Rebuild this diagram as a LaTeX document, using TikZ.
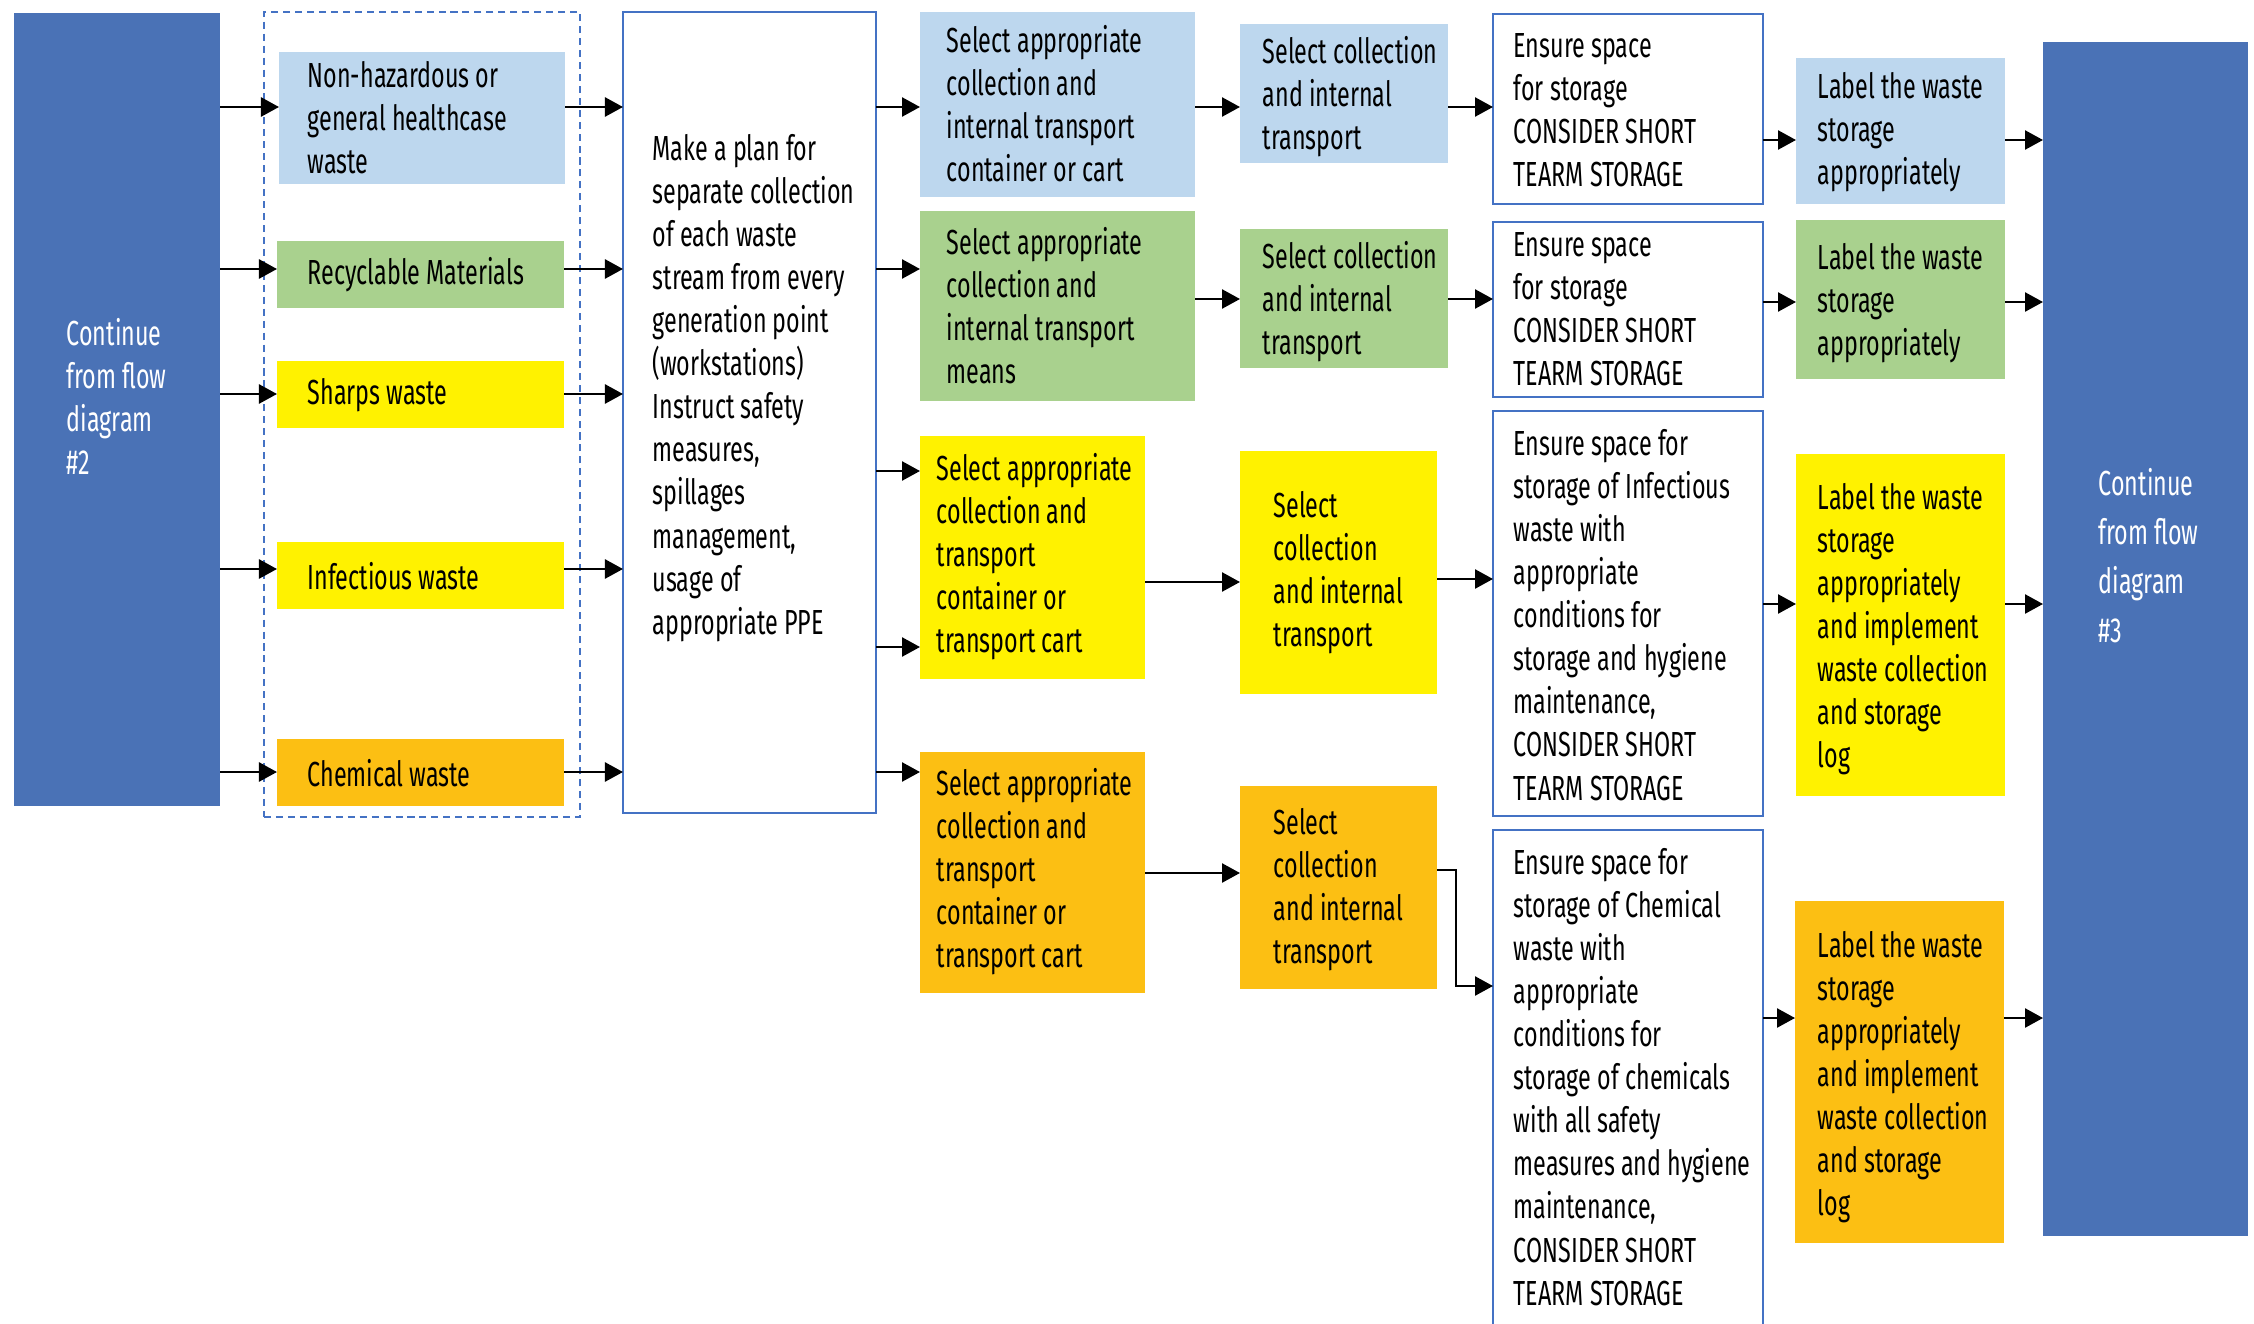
\documentclass[tikz,border=0pt]{standalone}
\usepackage{fontspec}
\setmainfont{Fira Sans}[FakeStretch=0.67]
\usetikzlibrary{arrows.meta,fit}

\definecolor{navy}{HTML}{4A72B6}
\definecolor{edgeblue}{HTML}{4472C4}
\definecolor{paleblue}{HTML}{BDD7EE}
\definecolor{palegreen}{HTML}{A9D18E}
\definecolor{brightyellow}{HTML}{FFF200}
\definecolor{amber}{HTML}{FCBF13}

\tikzset{
  box/.style={inner sep=0pt, outer sep=0pt},
  fillbox/.style={box, fill=#1},
  outlinebox/.style={box, draw=edgeblue, line width=0.6pt, fill=white},
  txt/.style={align=left, inner sep=0pt, anchor=west,
    font=\fontsize{9.9pt}{12.24pt}\selectfont},
  whitetxt/.style={txt, text=white},
  arr/.style={line width=0.7pt, -{Triangle[length=0.18cm,width=0.19cm]}},
}

\begin{document}
\begin{tikzpicture}[x=0.01cm,y=-0.01cm]
\useasboundingbox (0,0) rectangle (2254,1324);
\clip (0,0) rectangle (2254,1324);

% entry and exit panels
\node[fillbox=navy, fit={(14,13) (220,806)}] (cont2) {};
\node[whitetxt] (cont2-t) at (66,396) {Continue\\from flow\\diagram\\\#2};
\node[fillbox=navy, fit={(2043,42) (2248,1236)}] (cont3) {};
\node[whitetxt, font=\fontsize{9.9pt}{13.95pt}\selectfont] (cont3-t) at (2098,556) {Continue\\from flow\\diagram\\\#3};

% waste streams
\node[box, draw=edgeblue, line width=0.6pt, dash pattern=on 2pt off 1.4pt,
      fit={(264,12) (580,817)}] (streams) {};
\node[fillbox=paleblue, fit={(279,52) (565,184)}] (nonhaz) {};
\node[txt] (nonhaz-t) at (307,118) {Non-hazardous or\\general healthcase\\waste};
\node[fillbox=palegreen, fit={(277,241) (564,308)}] (recyc) {};
\node[txt] (recyc-t) at (307,275) {Recyclable Materials};
\node[fillbox=brightyellow, fit={(277,361) (564,428)}] (sharps) {};
\node[txt] (sharps-t) at (307,395) {Sharps waste};
\node[fillbox=brightyellow, fit={(277,542) (564,609)}] (infect) {};
\node[txt] (infect-t) at (307,576) {Infectious waste};
\node[fillbox=amber, fit={(277,739) (564,806)}] (chem) {};
\node[txt] (chem-t) at (307,773) {Chemical waste};

% plan
\node[outlinebox, fit={(623,12) (876,813)}] (plan) {};
\node[txt] (plan-t) at (652,388) {Make a plan for\\separate collection\\of each waste\\stream from every\\generation point\\(workstations)\\Instruct safety\\measures,\\spillages\\management,\\usage of\\appropriate PPE};

% collection means
\node[fillbox=paleblue, fit={(920,12) (1195,197)}] (c3a) {};
\node[txt] (c3a-t) at (946,104) {Select appropriate\\collection and\\internal transport\\container or cart};
\node[fillbox=palegreen, fit={(920,211) (1195,401)}] (c3b) {};
\node[txt] (c3b-t) at (946,306) {Select appropriate\\collection and\\internal transport\\means};
\node[fillbox=brightyellow, fit={(920,436) (1145,679)}] (c3c) {};
\node[txt] (c3c-t) at (936,557) {Select appropriate\\collection and\\transport\\container or\\transport cart};
\node[fillbox=amber, fit={(920,752) (1145,993)}] (c3d) {};
\node[txt] (c3d-t) at (936,872) {Select appropriate\\collection and\\transport\\container or\\transport cart};

% internal transport
\node[fillbox=paleblue, fit={(1240,24) (1448,163)}] (c4a) {};
\node[txt] (c4a-t) at (1262,97) {Select collection\\and internal\\transport};
\node[fillbox=palegreen, fit={(1240,229) (1448,368)}] (c4b) {};
\node[txt] (c4b-t) at (1262,302) {Select collection\\and internal\\transport};
\node[fillbox=brightyellow, fit={(1240,451) (1437,694)}] (c4c) {};
\node[txt] (c4c-t) at (1273,573) {Select\\collection\\and internal\\transport};
\node[fillbox=amber, fit={(1240,786) (1437,989)}] (c4d) {};
\node[txt] (c4d-t) at (1273,890) {Select\\collection\\and internal\\transport};

% storage space
\node[outlinebox, fit={(1493,14) (1763,204)}] (c5a) {};
\node[txt] (c5a-t) at (1513,110) {Ensure space\\for storage\\CONSIDER SHORT\\TEARM STORAGE};
\node[outlinebox, fit={(1493,222) (1763,397)}] (c5b) {};
\node[txt] (c5b-t) at (1513,309) {Ensure space\\for storage\\CONSIDER SHORT\\TEARM STORAGE};
\node[outlinebox, fit={(1493,411) (1763,816)}] (c5c) {};
\node[txt] (c5c-t) at (1513,615) {Ensure space for\\storage of Infectious\\waste with\\appropriate\\conditions for\\storage and hygiene\\maintenance,\\CONSIDER SHORT\\TEARM STORAGE};
\node[outlinebox, fit={(1493,830) (1763,1345)}] (c5d) {};
\node[txt] (c5d-t) at (1513,1077) {Ensure space for\\storage of Chemical\\waste with\\appropriate\\conditions for\\storage of chemicals\\with all safety\\measures and hygiene\\maintenance,\\CONSIDER SHORT\\TEARM STORAGE};

% labelling
\node[fillbox=paleblue, fit={(1796,58) (2005,204)}] (c6a) {};
\node[txt] (c6a-t) at (1817,132) {Label the waste\\storage\\appropriately};
\node[fillbox=palegreen, fit={(1796,220) (2005,379)}] (c6b) {};
\node[txt] (c6b-t) at (1817,303) {Label the waste\\storage\\appropriately};
\node[fillbox=brightyellow, fit={(1796,454) (2005,796)}] (c6c) {};
\node[txt] (c6c-t) at (1817,629) {Label the waste\\storage\\appropriately\\and implement\\waste collection\\and storage\\log};
\node[fillbox=amber, fit={(1795,901) (2004,1243)}] (c6d) {};
\node[txt] (c6d-t) at (1817,1077) {Label the waste\\storage\\appropriately\\and implement\\waste collection\\and storage\\log};

% connectors: entry panel to streams
\draw[arr] (cont2.east |- 0,107) -- (nonhaz.west |- 0,107);
\draw[arr] (cont2.east |- 0,269) -- (recyc.west |- 0,269);
\draw[arr] (cont2.east |- 0,394) -- (sharps.west |- 0,394);
\draw[arr] (cont2.east |- 0,569) -- (infect.west |- 0,569);
\draw[arr] (cont2.east |- 0,772) -- (chem.west |- 0,772);
% streams to plan
\draw[arr] (nonhaz.east |- 0,107) -- (plan.west |- 0,107);
\draw[arr] (recyc.east |- 0,269) -- (plan.west |- 0,269);
\draw[arr] (sharps.east |- 0,394) -- (plan.west |- 0,394);
\draw[arr] (infect.east |- 0,569) -- (plan.west |- 0,569);
\draw[arr] (chem.east |- 0,772) -- (plan.west |- 0,772);
% plan to collection means
\draw[arr] (plan.east |- 0,107) -- (c3a.west |- 0,107);
\draw[arr] (plan.east |- 0,269) -- (c3b.west |- 0,269);
\draw[arr] (plan.east |- 0,471) -- (c3c.west |- 0,471);
\draw[arr] (plan.east |- 0,647) -- (c3c.west |- 0,647);
\draw[arr] (plan.east |- 0,772) -- (c3d.west |- 0,772);
% collection means to internal transport
\draw[arr] (c3a.east |- 0,107) -- (c4a.west |- 0,107);
\draw[arr] (c3b.east |- 0,299) -- (c4b.west |- 0,299);
\draw[arr] (c3c.east |- 0,582) -- (c4c.west |- 0,582);
\draw[arr] (c3d.east |- 0,873) -- (c4d.west |- 0,873);
% internal transport to storage
\draw[arr] (c4a.east |- 0,107) -- (c5a.west |- 0,107);
\draw[arr] (c4b.east |- 0,299) -- (c5b.west |- 0,299);
\draw[arr] (c4c.east |- 0,579) -- (c5c.west |- 0,579);
\coordinate (bend) at (1456,986);
\draw[arr] (c4d.east |- 0,870) -| (bend) -- (c5d.west |- bend);
% storage to labelling
\draw[arr] (c5a.east |- 0,140) -- (c6a.west |- 0,140);
\draw[arr] (c5b.east |- 0,302) -- (c6b.west |- 0,302);
\draw[arr] (c5c.east |- 0,604) -- (c6c.west |- 0,604);
\draw[arr] (c5d.east |- 0,1018) -- (c6d.west |- 0,1018);
% labelling to exit panel
\draw[arr] (c6a.east |- 0,140) -- (cont3.west |- 0,140);
\draw[arr] (c6b.east |- 0,302) -- (cont3.west |- 0,302);
\draw[arr] (c6c.east |- 0,604) -- (cont3.west |- 0,604);
\draw[arr] (c6d.east |- 0,1018) -- (cont3.west |- 0,1018);
\end{tikzpicture}
\end{document}
